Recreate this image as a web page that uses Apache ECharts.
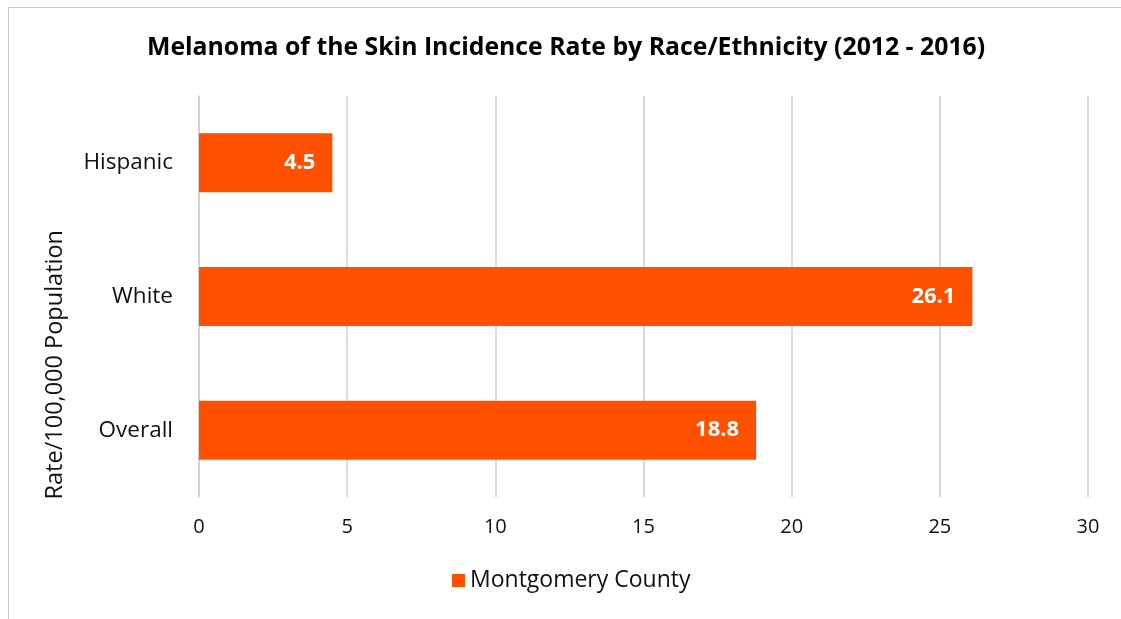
<!DOCTYPE html>
<html>
<head>
<meta charset="utf-8">
<script src="https://cdn.jsdelivr.net/npm/echarts@6/dist/echarts.min.js"></script>
<style>
html,body{margin:0;padding:0;background:#fff;}
#frame{position:absolute;left:8px;top:7px;width:1200px;height:700px;border:1.5px solid #c8c8c8;box-sizing:border-box;}
#chart{position:absolute;left:0;top:0;width:1121px;height:619px;}
</style>
</head>
<body>
<div id="frame"></div>
<div id="chart"></div>
<script>
const categories = ['Overall', 'White', 'Hispanic'];
const values = [18.8, 26.1, 4.5];
const seriesName = 'Montgomery County';
const titleText = 'Melanoma of the Skin Incidence Rate by Race/Ethnicity (2012 - 2016)';
const axisName = 'Rate/100,000 Population';
const FONT = '"Open Sans", "Noto Sans", sans-serif';

const chart = echarts.init(document.getElementById('chart'), null, {renderer: 'canvas'});
chart.setOption({
  backgroundColor: 'transparent',
  animation: false,
  title: {
    text: titleText,
    left: 142,
    top: 30,
    textStyle: {fontFamily: FONT, fontSize: 24.8, fontWeight: 'bold', color: '#000'}
  },
  legend: {
    data: [seriesName],
    bottom: 22,
    left: 447,
    icon: 'rect',
    itemWidth: 13,
    itemHeight: 13,
    itemGap: 8,
    textStyle: {fontFamily: FONT, fontSize: 23, color: '#111'}
  },
  grid: {left: 199, right: 33, top: 96, bottom: 122, containLabel: false},
  xAxis: {
    type: 'value',
    min: 0, max: 30, interval: 5,
    axisLine: {show: false},
    axisTick: {show: false},
    splitLine: {lineStyle: {color: '#cfcfcf', width: 1.5}},
    axisLabel: {fontFamily: FONT, fontSize: 20, color: '#111', margin: 20}
  },
  yAxis: {
    type: 'category',
    data: categories,
    axisLine: {show: true, lineStyle: {color: '#cfcfcf', width: 1.5}},
    axisTick: {show: false},
    axisLabel: {fontFamily: FONT, fontSize: 22.5, color: '#111', margin: 26}
  },
  graphic: [{
    type: 'text',
    left: 43,
    top: 230,
    rotation: Math.PI / 2,
    style: {text: axisName, font: '23.5px ' + FONT, fill: '#111'}
  }],
  series: [{
    name: seriesName,
    type: 'bar',
    data: values,
    barWidth: 59,
    itemStyle: {color: '#FF5000'},
    label: {
      show: true,
      position: 'insideRight',
      distance: 17,
      fontFamily: FONT,
      fontSize: 22,
      fontWeight: 'bold',
      color: '#fff'
    }
  }]
});
</script>
</body>
</html>
